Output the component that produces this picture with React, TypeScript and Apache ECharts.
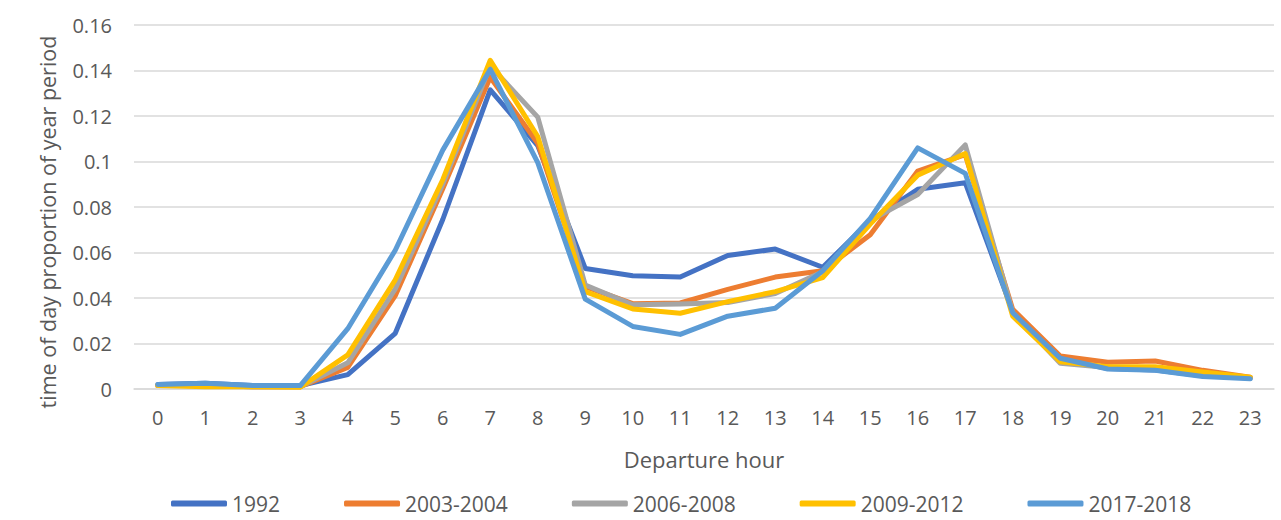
import React, { useEffect, useRef } from "react";
import * as echarts from "echarts";

const hours = ["0","1","2","3","4","5","6","7","8","9","10","11","12","13","14","15","16","17","18","19","20","21","22","23"];

const s1992 = [0.002, 0.0025, 0.0015, 0.0015, 0.0063, 0.0245, 0.0745, 0.1315, 0.107, 0.053, 0.0498, 0.0492, 0.0587, 0.0615, 0.0535, 0.074, 0.0878, 0.0907, 0.034, 0.0135, 0.009, 0.0083, 0.0058, 0.0048];
const s2003 = [0.0015, 0.0015, 0.001, 0.001, 0.0095, 0.041, 0.088, 0.137, 0.108, 0.045, 0.0375, 0.0378, 0.0438, 0.0492, 0.052, 0.0678, 0.0958, 0.103, 0.035, 0.0145, 0.0118, 0.0123, 0.0082, 0.0052];
const s2006 = [0.0015, 0.0015, 0.001, 0.001, 0.0115, 0.044, 0.09, 0.142, 0.1195, 0.0457, 0.037, 0.0374, 0.038, 0.042, 0.0515, 0.074, 0.0855, 0.1073, 0.0335, 0.0113, 0.0095, 0.009, 0.0065, 0.0048];
const s2009 = [0.0015, 0.001, 0.001, 0.0008, 0.015, 0.048, 0.092, 0.1445, 0.111, 0.0428, 0.0352, 0.0333, 0.0384, 0.0428, 0.049, 0.0725, 0.094, 0.1035, 0.032, 0.012, 0.0098, 0.0098, 0.0075, 0.0052];
const s2017 = [0.002, 0.0025, 0.0015, 0.0015, 0.0265, 0.061, 0.105, 0.1405, 0.0995, 0.0395, 0.0275, 0.024, 0.032, 0.0355, 0.052, 0.075, 0.106, 0.0948, 0.0335, 0.0135, 0.0088, 0.0082, 0.0055, 0.0045];

const seriesNames = ["1992", "2003-2004", "2006-2008", "2009-2012", "2017-2018"];
const seriesData = [s1992, s2003, s2006, s2009, s2017];
const colors = ["#4472C4", "#ED7D31", "#A5A5A5", "#FFC000", "#5B9BD5"];

const FONT = "'Open Sans', 'Liberation Sans', sans-serif";
const TXT = "#595959";

export default function App() {
  const ref = useRef<HTMLDivElement>(null);
  useEffect(() => {
    if (!ref.current) return;
    document.body.style.margin = "0";
    const chart = echarts.init(ref.current, undefined, { renderer: "svg" });
    chart.setOption({
      animation: false,
      textStyle: { fontFamily: FONT },
      grid: { left: 134, right: 7, top: 25, bottom: 131, containLabel: false },
      legend: {
        top: 488,
        left: 166,
        icon: "roundRect",
        itemWidth: 56,
        itemHeight: 6,
        itemGap: 64,
        textStyle: { color: TXT, fontSize: 21, lineHeight: 21, fontFamily: FONT },
        data: seriesNames,
      },
      xAxis: {
        type: "category",
        data: hours,
        boundaryGap: true,
        name: "Departure hour",
        nameLocation: "middle",
        nameGap: 59,
        nameTextStyle: { color: TXT, fontSize: 22, fontFamily: FONT },
        axisLine: { lineStyle: { color: "#d9d9d9", width: 1.5 } },
        axisTick: { show: false },
        axisLabel: { color: TXT, fontSize: 20, margin: 18, fontFamily: FONT },
      },
      yAxis: {
        type: "value",
        min: 0,
        max: 0.16,
        interval: 0.02,
        axisLine: { show: false },
        axisTick: { show: false },
        axisLabel: { color: TXT, fontSize: 20, margin: 22, fontFamily: FONT },
        splitLine: { lineStyle: { color: "#d9d9d9", width: 1.5 } },
      },
      graphic: [
        {
          type: "text",
          x: 47,
          y: 222,
          rotation: Math.PI / 2,
          style: {
            text: "time of day proportion of year period",
            fill: TXT,
            fontSize: 21.5,
            fontFamily: FONT,
            align: "center",
            verticalAlign: "middle",
          },
        },
      ],
      series: seriesNames.map((n, i) => ({
        name: n,
        type: "line",
        data: seriesData[i],
        symbol: "none",
        showSymbol: false,
        color: colors[i],
        lineStyle: { width: 5, color: colors[i], cap: "round", join: "round" },
        z: 2 + i,
      })),
    });
    return () => chart.dispose();
  }, []);
  return <div ref={ref} style={{ width: 1281, height: 520 }} />;
}
